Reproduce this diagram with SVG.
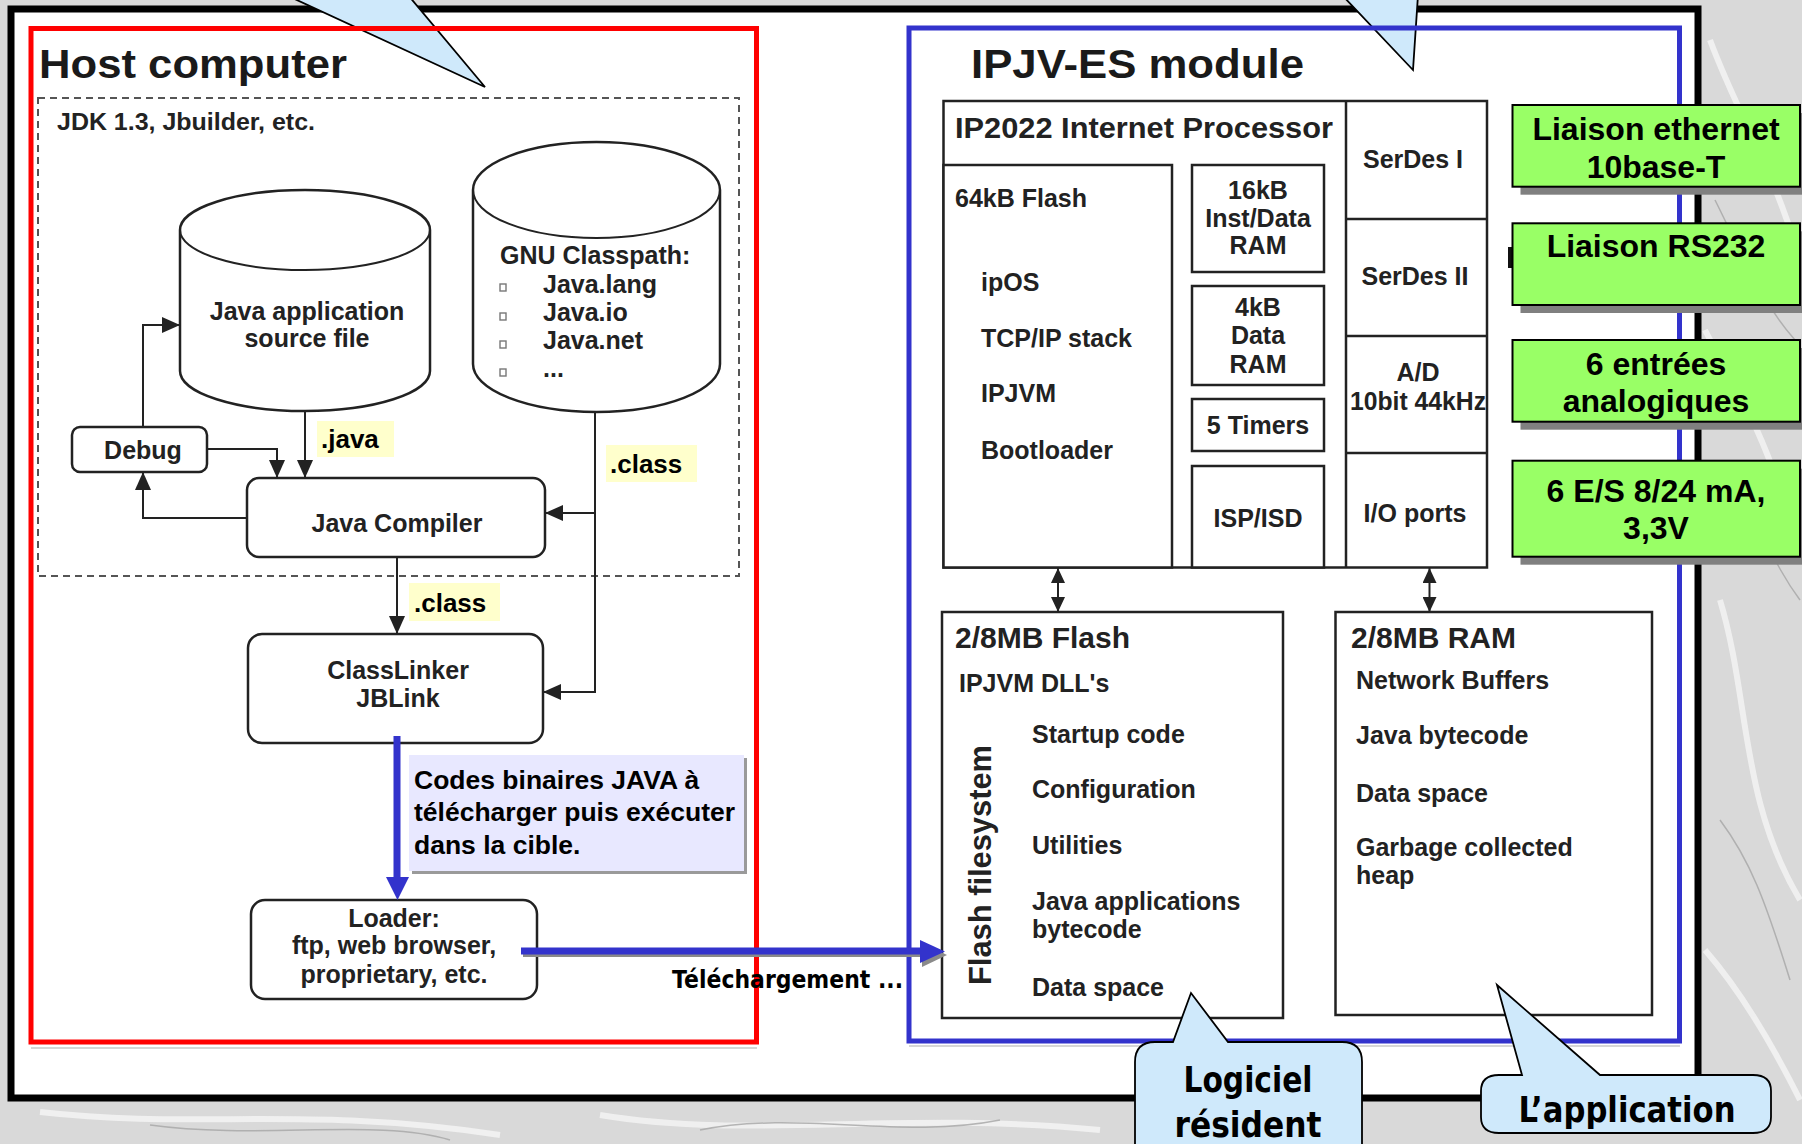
<svg xmlns="http://www.w3.org/2000/svg" width="1802" height="1144" viewBox="0 0 1802 1144">
<style>
.lbl{font-family:"Liberation Sans",Arial,sans-serif;font-weight:bold;font-size:25px;fill:#222}
.mid{text-anchor:middle}
.title{font-size:40px;fill:#1a1a1a}
.big{font-size:30px}
.tag{font-size:26px;fill:#000}
.note{font-size:26.5px;fill:#000}
.green{font-size:32px;fill:#000;text-anchor:middle}
.comic{font-family:"Comic Sans MS","DejaVu Sans",sans-serif;font-weight:bold;fill:#000}
.box{fill:#fff;stroke:#222;stroke-width:2.5}
.rbox{fill:#fff;stroke:#222;stroke-width:2.5}
.conn{fill:none;stroke:#222;stroke-width:2}
.blue{fill:none;stroke:#3333cc;stroke-width:7}
.yel{fill:#ffffcc}
.gbox{fill:#99ff66;stroke:#000;stroke-width:2}
.gsh{fill:#808080}
.bubble{fill:#cfe9fb;stroke:#000;stroke-width:1.8}
.bul{fill:none;stroke:#777;stroke-width:1.4}
</style>
<defs>
<marker id="ah" markerUnits="userSpaceOnUse" viewBox="0 0 18 16" refX="18" refY="8" markerWidth="18" markerHeight="16" orient="auto">
<path d="M0,0 L18,8 L0,16 Z" fill="#222"/>
</marker>
<marker id="ahs" markerUnits="userSpaceOnUse" viewBox="0 0 15 14" refX="15" refY="7" markerWidth="15" markerHeight="14" orient="auto-start-reverse">
<path d="M0,0 L15,7 L0,14 Z" fill="#222"/>
</marker>
</defs>

<!-- background -->
<rect x="0" y="0" width="1802" height="1144" fill="#d9d9d9"/>
<g fill="none" stroke="#f2f2f2" stroke-width="6" opacity="0.9">
<path d="M1710,40 C1740,120 1770,160 1800,260"/>
<path d="M1705,330 C1730,380 1760,420 1790,520"/>
<path d="M1720,600 C1750,700 1740,800 1800,900"/>
<path d="M1705,950 C1740,990 1770,1040 1800,1100"/>
<path d="M40,1112 C200,1130 300,1105 500,1135"/>
<path d="M600,1115 C750,1140 900,1110 1100,1130"/>
</g>
<g fill="none" stroke="#a5a5a5" stroke-width="1.5" opacity="0.8">
<path d="M1715,200 C1745,260 1760,300 1795,340"/>
<path d="M1720,820 C1750,860 1765,900 1790,980"/>
<path d="M1730,480 C1760,520 1770,560 1800,600"/>
<path d="M150,1125 C260,1140 380,1118 450,1140"/>
<path d="M700,1130 C800,1110 900,1140 1000,1120"/>
</g>

<!-- outer frame -->
<rect x="11" y="9" width="1687" height="1089" fill="#fff" stroke="#000" stroke-width="7"/>

<!-- top callout tails -->
<polygon class="bubble" points="286,-5 408,-5 485,87"/>
<polygon class="bubble" points="1342,-5 1418,-5 1413,70"/>

<!-- section frames -->
<line x1="31" y1="1048" x2="757" y2="1048" stroke="#d6d6d6" stroke-width="2"/>
<line x1="909" y1="1046" x2="1680" y2="1046" stroke="#d6d6d6" stroke-width="2"/>
<rect id="host-frame" x="31" y="28.5" width="725.5" height="1013.5" fill="none" stroke="#ff0000" stroke-width="5"/>
<rect id="module-frame" x="909" y="28" width="770.5" height="1013" fill="none" stroke="#3333cc" stroke-width="5"/>

<!-- Host computer -->
<g id="host-title">
<text class="lbl title" x="39" y="78" textLength="308" lengthAdjust="spacingAndGlyphs">Host computer</text>
</g>
<g id="jdk">
<rect x="38" y="98" width="701" height="478" fill="none" stroke="#555" stroke-width="2" stroke-dasharray="7 5"/>
<text class="lbl" x="57" y="130" style="font-size:24px" textLength="258" lengthAdjust="spacingAndGlyphs">JDK 1.3, Jbuilder, etc.</text>
</g>
<g id="source-file">
<path class="box" d="M180,230 A125,40 0 0 1 430,230 V371 A125,40 0 0 1 180,371 Z"/>
<path class="conn" d="M180,230 A125,40 0 0 0 430,230"/>
<text class="lbl mid" x="307" y="320">Java application</text>
<text class="lbl mid" x="307" y="347">source file</text>
</g>
<g id="gnu-classpath">
<path class="box" d="M473,190 A123.5,48 0 0 1 720,190 V364 A123.5,48 0 0 1 473,364 Z"/>
<path class="conn" d="M473,190 A123.5,48 0 0 0 720,190"/>
<text class="lbl" x="500" y="264">GNU Classpath:</text>
<rect class="bul" x="500" y="284" width="6" height="7"/>
<rect class="bul" x="500" y="313" width="6" height="7"/>
<rect class="bul" x="500" y="341" width="6" height="7"/>
<rect class="bul" x="500" y="369" width="6" height="7"/>
<text class="lbl" x="543" y="293">Java.lang</text>
<text class="lbl" x="543" y="321">Java.io</text>
<text class="lbl" x="543" y="349">Java.net</text>
<text class="lbl" x="543" y="377">...</text>
</g>
<g id="debug">
<rect class="rbox" x="72" y="427" width="135" height="45" rx="8"/>
<text class="lbl mid" x="143" y="459">Debug</text>
</g>
<g id="java-compiler">
<rect class="rbox" x="247" y="478" width="298" height="79" rx="12"/>
<text class="lbl mid" x="397" y="532">Java Compiler</text>
</g>
<g id="classlinker">
<rect class="rbox" x="248" y="634" width="295" height="109" rx="14"/>
<text class="lbl mid" x="398" y="679">ClassLinker</text>
<text class="lbl mid" x="398" y="707">JBLink</text>
</g>
<g id="loader">
<rect class="rbox" x="251" y="900" width="286" height="99" rx="14"/>
<text class="lbl mid" x="394" y="927">Loader:</text>
<text class="lbl mid" x="394" y="954">ftp, web browser,</text>
<text class="lbl mid" x="394" y="983">proprietary, etc.</text>
</g>
<g id="note-binaires">
<rect x="412" y="758" width="335" height="116" fill="#9a9a9a"/>
<rect x="409" y="755" width="335" height="116" fill="#e8e8ff"/>
<text class="lbl note" x="414" y="789">Codes binaires JAVA à</text>
<text class="lbl note" x="414" y="821">télécharger puis exécuter</text>
<text class="lbl note" x="414" y="854">dans la cible.</text>
</g>

<!-- IPJV-ES module -->
<g id="module-title">
<text class="lbl title" x="971" y="78" textLength="333" lengthAdjust="spacingAndGlyphs">IPJV-ES module</text>
</g>
<g id="ip2022">
<rect class="box" x="943.5" y="101" width="543.5" height="466.5"/>
<line x1="1346" y1="101" x2="1346" y2="567.5" stroke="#222" stroke-width="2.5"/>
<line x1="1346" y1="219" x2="1487" y2="219" stroke="#222" stroke-width="2.5"/>
<line x1="1346" y1="336" x2="1487" y2="336" stroke="#222" stroke-width="2.5"/>
<line x1="1346" y1="453" x2="1487" y2="453" stroke="#222" stroke-width="2.5"/>
<text class="lbl" x="955" y="138" style="font-size:30px" textLength="378" lengthAdjust="spacingAndGlyphs">IP2022 Internet Processor</text>
</g>
<g id="flash-64k">
<rect class="box" x="943.5" y="165" width="228.5" height="402.5"/>
<text class="lbl" x="955" y="207">64kB Flash</text>
<text class="lbl" x="981" y="291">ipOS</text>
<text class="lbl" x="981" y="347">TCP/IP stack</text>
<text class="lbl" x="981" y="402">IPJVM</text>
<text class="lbl" x="981" y="459">Bootloader</text>
</g>
<g id="ram-16k">
<rect class="box" x="1192" y="165" width="132" height="107"/>
<text class="lbl mid" x="1258" y="199">16kB</text>
<text class="lbl mid" x="1258" y="227">Inst/Data</text>
<text class="lbl mid" x="1258" y="254">RAM</text>
</g>
<g id="ram-4k">
<rect class="box" x="1192" y="286" width="132" height="99"/>
<text class="lbl mid" x="1258" y="316">4kB</text>
<text class="lbl mid" x="1258" y="344">Data</text>
<text class="lbl mid" x="1258" y="373">RAM</text>
</g>
<g id="timers">
<rect class="box" x="1192" y="399" width="132" height="52"/>
<text class="lbl mid" x="1258" y="434">5 Timers</text>
</g>
<g id="isp">
<rect class="box" x="1192" y="466" width="132" height="101.5"/>
<text class="lbl mid" x="1258" y="527">ISP/ISD</text>
</g>
<g id="serdes1"><text class="lbl mid" x="1413" y="168">SerDes I</text></g>
<g id="serdes2"><text class="lbl mid" x="1415" y="285">SerDes II</text></g>
<g id="ad">
<text class="lbl mid" x="1418" y="381">A/D</text>
<text class="lbl" x="1350" y="409.5" textLength="136" lengthAdjust="spacingAndGlyphs">10bit 44kHz</text>
</g>
<g id="io"><text class="lbl mid" x="1415" y="522">I/O ports</text></g>

<g id="flash-28">
<rect class="box" x="942" y="612" width="341" height="406"/>
<text class="lbl big" x="955" y="648">2/8MB Flash</text>
<text class="lbl" x="959" y="692">IPJVM DLL's</text>
<text class="lbl" x="1032" y="743">Startup code</text>
<text class="lbl" x="1032" y="798">Configuration</text>
<text class="lbl" x="1032" y="854">Utilities</text>
<text class="lbl" x="1032" y="910">Java applications</text>
<text class="lbl" x="1032" y="938">bytecode</text>
<text class="lbl" x="1032" y="996">Data space</text>
<text class="lbl" transform="translate(991,985) rotate(-90)" x="0" y="0" style="font-size:32px" textLength="240" lengthAdjust="spacingAndGlyphs">Flash filesystem</text>
</g>
<g id="ram-28">
<rect class="box" x="1335.5" y="612" width="316.5" height="403"/>
<text class="lbl big" x="1351" y="648">2/8MB RAM</text>
<text class="lbl" x="1356" y="689">Network Buffers</text>
<text class="lbl" x="1356" y="744">Java bytecode</text>
<text class="lbl" x="1356" y="802">Data space</text>
<text class="lbl" x="1356" y="856">Garbage collected</text>
<text class="lbl" x="1356" y="884">heap</text>
</g>

<!-- connectors -->
<g id="connectors">
<path class="conn" d="M305,412 V478" marker-end="url(#ah)"/>
<path class="conn" d="M207,449 H277 V478" marker-end="url(#ah)"/>
<path class="conn" d="M247,518 H143 V472" marker-end="url(#ah)"/>
<path class="conn" d="M143,427 V325 H180" marker-end="url(#ah)"/>
<path class="conn" d="M595,412 V692 H543" marker-end="url(#ah)"/>
<path class="conn" d="M595,513 H545" marker-end="url(#ah)"/>
<path class="conn" d="M397,557 V634" marker-end="url(#ah)"/>
<path class="conn" d="M1058,568 V612" marker-start="url(#ahs)" marker-end="url(#ahs)"/>
<path class="conn" d="M1429.5,568 V612" marker-start="url(#ahs)" marker-end="url(#ahs)"/>
<line class="blue" x1="397" y1="736" x2="397" y2="879"/>
<polygon points="386,877 409,877 397.5,900" fill="#3333cc"/>
<line x1="523" y1="955" x2="922" y2="955" stroke="#8a8a8a" stroke-width="4"/>
<polygon points="922,943 922,967 947,955" fill="#8a8a8a"/>
<line class="blue" x1="521" y1="951" x2="922" y2="951"/>
<polygon points="920,940 920,963 945,951.5" fill="#3333cc"/>
<rect class="yel" x="317" y="421" width="77" height="36"/>
<text class="lbl tag" x="321" y="448">.java</text>
<rect class="yel" x="606" y="445" width="91" height="37"/>
<text class="lbl tag" x="610" y="473">.class</text>
<rect class="yel" x="409" y="583" width="91" height="38"/>
<text class="lbl tag" x="414" y="612">.class</text>
<text class="comic" x="672" y="988" font-size="25" textLength="231" lengthAdjust="spacingAndGlyphs">Téléchargement ...</text>
</g>

<!-- interfaces -->
<g id="eth">
<rect class="gsh" x="1520.5" y="113" width="290" height="81.7"/>
<rect class="gbox" x="1512.5" y="105" width="287.5" height="81.7"/>
<text class="lbl green" x="1656" y="140">Liaison ethernet</text>
<text class="lbl green" x="1656" y="178">10base-T</text>
</g>
<g id="rs232">
<rect x="1508" y="247" width="5" height="21" fill="#111"/>
<rect class="gsh" x="1520.5" y="231.3" width="290" height="81.7"/>
<rect class="gbox" x="1512.5" y="223.3" width="287.5" height="81.7"/>
<text class="lbl green" x="1656" y="257">Liaison RS232</text>
</g>
<g id="analog">
<rect class="gsh" x="1520.5" y="348" width="290" height="81.7"/>
<rect class="gbox" x="1512.5" y="340" width="287.5" height="81.7"/>
<text class="lbl green" x="1656" y="375">6 entrées</text>
<text class="lbl green" x="1656" y="412">analogiques</text>
</g>
<g id="io-lines">
<rect class="gsh" x="1520.5" y="468.7" width="290" height="96"/>
<rect class="gbox" x="1512.5" y="460.7" width="287.5" height="96"/>
<text class="lbl green" x="1656" y="502">6 E/S 8/24 mA,</text>
<text class="lbl green" x="1656" y="538.5">3,3V</text>
</g>

<!-- bottom callouts -->
<g id="callout-resident">
<path class="bubble" d="M1155,1042 H1173 L1191,993 L1228,1042 H1342 Q1362,1042 1362,1062 V1160 H1135 V1062 Q1135,1042 1155,1042 Z"/>
<text class="comic mid" x="1248" y="1092" font-size="36" textLength="129" lengthAdjust="spacingAndGlyphs">Logiciel</text>
<text class="comic mid" x="1248" y="1137" font-size="36" textLength="147" lengthAdjust="spacingAndGlyphs">résident</text>
</g>
<g id="callout-application">
<path class="bubble" d="M1499,1075 H1522 L1497,985 L1600,1075 H1753 Q1771,1075 1771,1091 V1117 Q1771,1133 1753,1133 H1499 Q1481,1133 1481,1117 V1091 Q1481,1075 1499,1075 Z"/>
<text class="comic mid" x="1627" y="1122" font-size="36" textLength="217" lengthAdjust="spacingAndGlyphs">L’application</text>
</g>
</svg>
